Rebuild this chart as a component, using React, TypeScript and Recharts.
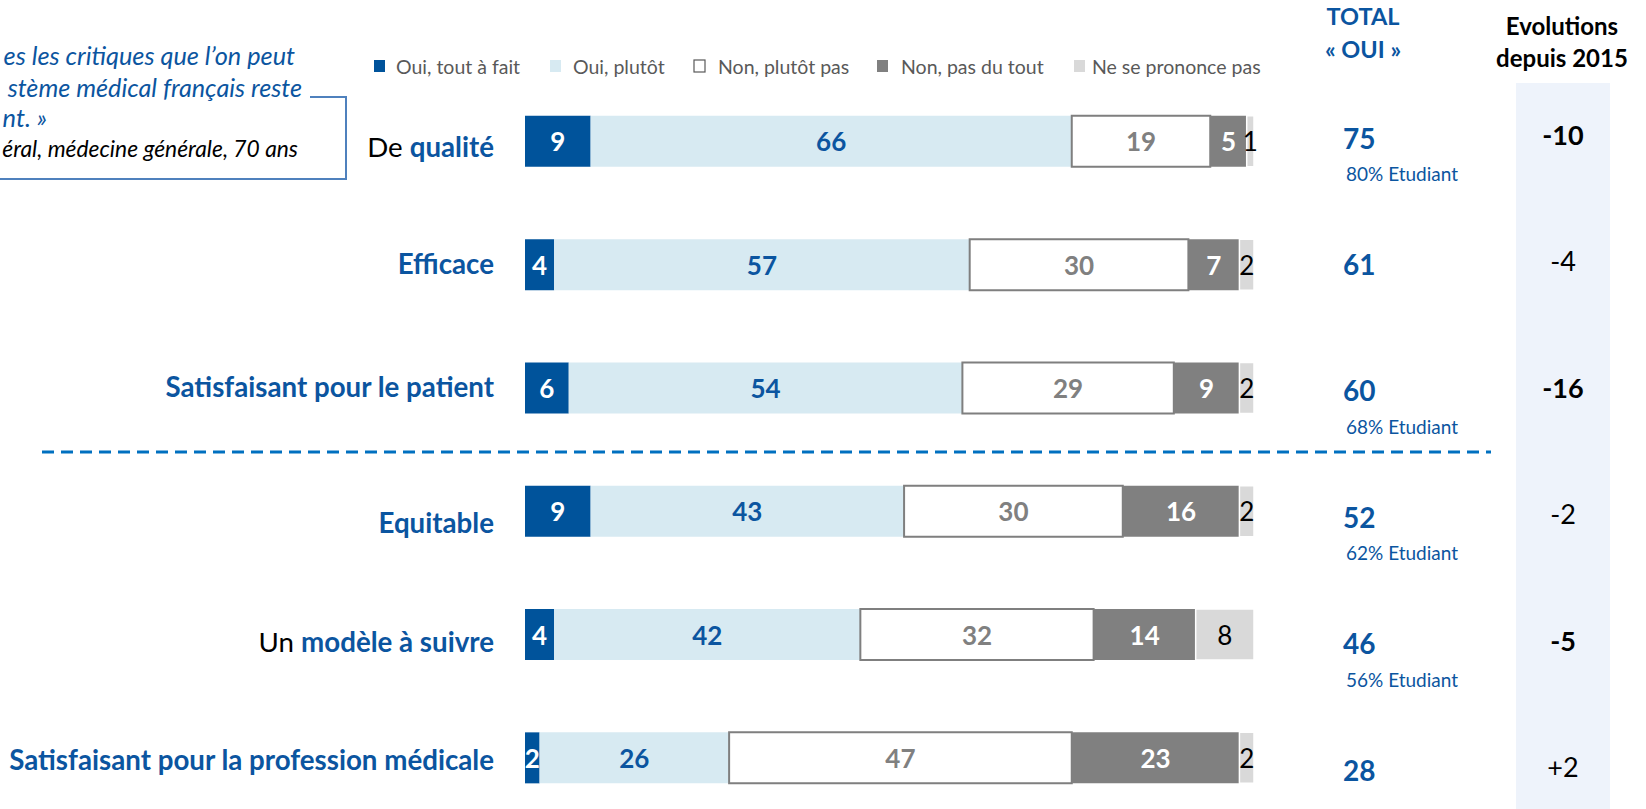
import React from "react";
import { BarChart, Bar, XAxis, YAxis, LabelList, Customized } from "recharts";

const categories = [
  "De qualité",
  "Efficace",
  "Satisfaisant pour le patient",
  "Equitable",
  "Un modèle à suivre",
  "Satisfaisant pour la profession médicale",
];
const labelPlain = ["De ", "", "", "", "Un ", ""];
const labelBold = [
  "qualité",
  "Efficace",
  "Satisfaisant pour le patient",
  "Equitable",
  "modèle à suivre",
  "Satisfaisant pour la profession médicale",
];
// small vertical nudges of the row labels (text boxes in the original are not exactly centred)
const labelNudge = [4, -2, -2, 11, 6, 1];

const ouiToutAFait = [9, 4, 6, 9, 4, 2];
const ouiPlutot = [66, 57, 54, 43, 42, 26];
const nonPlutotPas = [19, 30, 29, 30, 32, 47];
const nonPasDuTout = [5, 7, 9, 16, 14, 23];
const nspp = [1, 2, 2, 2, 8, 2];

const totalOui = [75, 61, 60, 52, 46, 28];
const etudiant = [80, null, 68, 62, 56, null];
const evolution = ["-10", "-4", "-16", "-2", "-5", "+2"];
const evolutionBold = [true, false, true, false, true, false];

const seriesKeys = ["a", "b", "c", "d", "e"];
const seriesNames = [
  "Oui, tout à fait",
  "Oui, plutôt",
  "Non, plutôt pas",
  "Non, pas du tout",
  "Ne se prononce pas",
];
const seriesFill = ["#00539b", "#d7eaf2", "#ffffff", "#808080", "#d9d9d9"];
const seriesStroke = ["none", "none", "#7f7f7f", "none", "#ffffff"];
const labelColor = ["#ffffff", "#0b55a0", "#808080", "#ffffff", "#000000"];
const labelWeight = [700, 700, 700, 700, 400];

const data = categories.map((name, i) => ({
  name,
  a: ouiToutAFait[i],
  b: ouiPlutot[i],
  c: nonPlutotPas[i],
  d: nonPasDuTout[i],
  e: nspp[i],
}));

const BLUE = "#0b55a0";
const FONT = "Lato, 'Open Sans', sans-serif";

const idx = (payload: any) => {
  const v = payload && payload.value;
  const i = categories.indexOf(v);
  return i >= 0 ? i : payload && typeof payload.index === "number" ? payload.index : 0;
};

const RowLabel = (props: any) => {
  const { x, y, payload } = props;
  const i = idx(payload);
  return (
    <text
      x={x}
      y={y + labelNudge[i]}
      textAnchor="end"
      dominantBaseline="central"
      fontFamily={FONT}
      fontSize={27.7}
    >
      {labelPlain[i] ? <tspan fill="#000" fontWeight={400}>{labelPlain[i]}</tspan> : null}
      <tspan fill={BLUE} fontWeight={700}>{labelBold[i]}</tspan>
    </text>
  );
};

const RightTick = (props: any) => {
  const { x, y, payload } = props;
  const i = idx(payload);
  return (
    <g fontFamily={FONT}>
      <text x={x} y={y} textAnchor="start" dominantBaseline="central" fontSize={28} fontWeight={700} fill={BLUE}>
        {totalOui[i]}
      </text>
      {etudiant[i] != null ? (
        <text x={x + 3} y={y + 36} textAnchor="start" dominantBaseline="central" fontSize={19} fill={BLUE}>
          {`${etudiant[i]}% Etudiant`}
        </text>
      ) : null}
      <text
        x={x + 220}
        y={y - 3}
        textAnchor="middle"
        dominantBaseline="central"
        fontSize={27}
        fontWeight={evolutionBold[i] ? 700 : 400}
        fill="#000"
      >
        {evolution[i]}
      </text>
    </g>
  );
};

const makeLabel = (s: number) => (props: any) => {
  const { x, y, width, height, value } = props;
  return (
    <text
      x={x + width / 2}
      y={y + height / 2}
      textAnchor="middle"
      dominantBaseline="central"
      fontFamily={FONT}
      fontSize={26}
      fontWeight={labelWeight[s]}
      fill={labelColor[s]}
    >
      {value}
    </text>
  );
};

const Decor = () => {
  const legendX = [373, 549, 693, 876, 1073];
  const legendTextDx = [23, 24, 25, 25, 19];
  return (
    <g fontFamily={FONT}>
      {/* quote */}
      <text x={295} y={65} textAnchor="end" fontSize={25.3} fontStyle="italic" fill={BLUE}>
        es les critiques que l’on peut
      </text>
      <text x={302} y={97} textAnchor="end" fontSize={25.2} fontStyle="italic" fill={BLUE}>
        stème médical français reste
      </text>
      <text x={47} y={127} textAnchor="end" fontSize={25.5} fontStyle="italic" fill={BLUE}>
        nt. »
      </text>
      <text x={298} y={157} textAnchor="end" fontSize={22.8} fontStyle="italic" fill="#000">
        éral, médecine générale, 70 ans
      </text>
      <polyline points="310,97 346,97 346,179 0,179" fill="none" stroke="#4f81bd" strokeWidth={2} />

      {/* legend */}
      {seriesNames.map((n, i) => (
        <g key={n}>
          <rect
            x={legendX[i] + 1}
            y={60}
            width={11}
            height={12}
            fill={seriesFill[i]}
            stroke={i === 2 ? "#595959" : "none"}
            strokeWidth={1.2}
          />
          <text x={legendX[i] + legendTextDx[i]} y={66} dominantBaseline="central" fontSize={19.5} fill="#595959">
            {n}
          </text>
        </g>
      ))}

      {/* headers */}
      <text x={1363} y={16} textAnchor="middle" dominantBaseline="central" fontSize={23.5} fontWeight={700} fill={BLUE}>
        TOTAL
      </text>
      <text x={1363} y={49} textAnchor="middle" dominantBaseline="central" fontSize={23.5} fontWeight={700} fill={BLUE}>
        « OUI »
      </text>
      <text x={1562} y={25} textAnchor="middle" dominantBaseline="central" fontSize={24} fontWeight={700} fill="#000">
        Evolutions
      </text>
      <text x={1562} y={57} textAnchor="middle" dominantBaseline="central" fontSize={24} fontWeight={700} fill="#000">
        depuis 2015
      </text>

      {/* separator */}
      <line x1={42} y1={452} x2={1491} y2={452} stroke="#0070c0" strokeWidth={3} strokeDasharray="12 7" />
    </g>
  );
};

export default function App() {
  return (
    <div
      style={{
        position: "absolute",
        left: 0,
        top: 0,
        width: 1646,
        height: 809,
        overflow: "hidden",
        background: "#ffffff",
      }}
    >
      <div style={{ position: "absolute", left: 1516, top: 83, width: 94, height: 726, background: "#eef3fb" }} />
      <div style={{ position: "absolute", left: 0, top: 0 }}>
        <BarChart
          width={1646}
          height={840}
          data={data}
          layout="vertical"
          margin={{ top: 70, right: 391, bottom: 0, left: 524 }}
        >
          <XAxis type="number" domain={[0, 100]} hide />
          <YAxis
            yAxisId="l"
            type="category"
            dataKey="name"
            width={1}
            axisLine={false}
            tickLine={false}
            tickSize={0}
            tickMargin={31}
            interval={0}
            padding={{ top: 9.85, bottom: 20.35 }}
            tick={<RowLabel />}
          />
          <YAxis
            yAxisId="r"
            orientation="right"
            type="category"
            dataKey="name"
            width={1}
            axisLine={false}
            tickLine={false}
            tickSize={0}
            tickMargin={89}
            interval={0}
            padding={{ top: 4.3, bottom: 7.3 }}
            tick={<RightTick />}
          />
          {seriesKeys.map((k, s) => (
            <Bar
              key={k}
              yAxisId="l"
              dataKey={k}
              name={seriesNames[s]}
              stackId="s"
              fill={seriesFill[s]}
              stroke={seriesStroke[s]}
              strokeWidth={s === 2 ? 2 : 1.5}
              barSize={51}
              isAnimationActive={false}
            >
              <LabelList dataKey={k} content={makeLabel(s)} />
            </Bar>
          ))}
          <Customized component={Decor} />
        </BarChart>
      </div>
    </div>
  );
}
